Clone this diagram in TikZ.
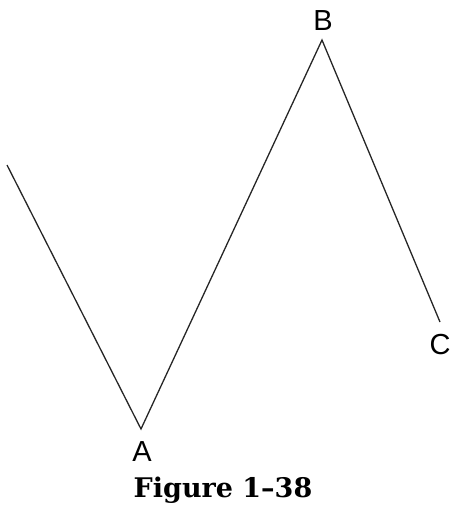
\documentclass[tikz,border=0pt]{standalone}
\usepackage{fontspec}
\setmainfont{Liberation Sans}
\newfontfamily\capfont{DejaVu Serif}
\begin{document}
\begin{tikzpicture}[x=1pt,y=-1pt,
  wave/.style={line width=1.3pt,black!85},
  lbl/.style={font=\fontsize{29}{29}\selectfont, inner sep=0pt},
  figcaption/.style={font=\capfont\bfseries\fontsize{27}{27}\selectfont, inner sep=0pt}]
\useasboundingbox (0,0) rectangle (450,507);
\coordinate (S) at (7,165);
\coordinate (A) at (141,429);
\coordinate (B) at (322,40);
\coordinate (C) at (440,322);
\draw[wave] (S) -- (A) -- (B) -- (C);
\node[lbl] (la) at (142,452) {A};
\node[lbl] (lb) at (323,21) {B};
\node[lbl] (lc) at (440,345) {C};
\node[figcaption] (fig) at (223,490) {Figure 1\textendash38};
\end{tikzpicture}
\end{document}
